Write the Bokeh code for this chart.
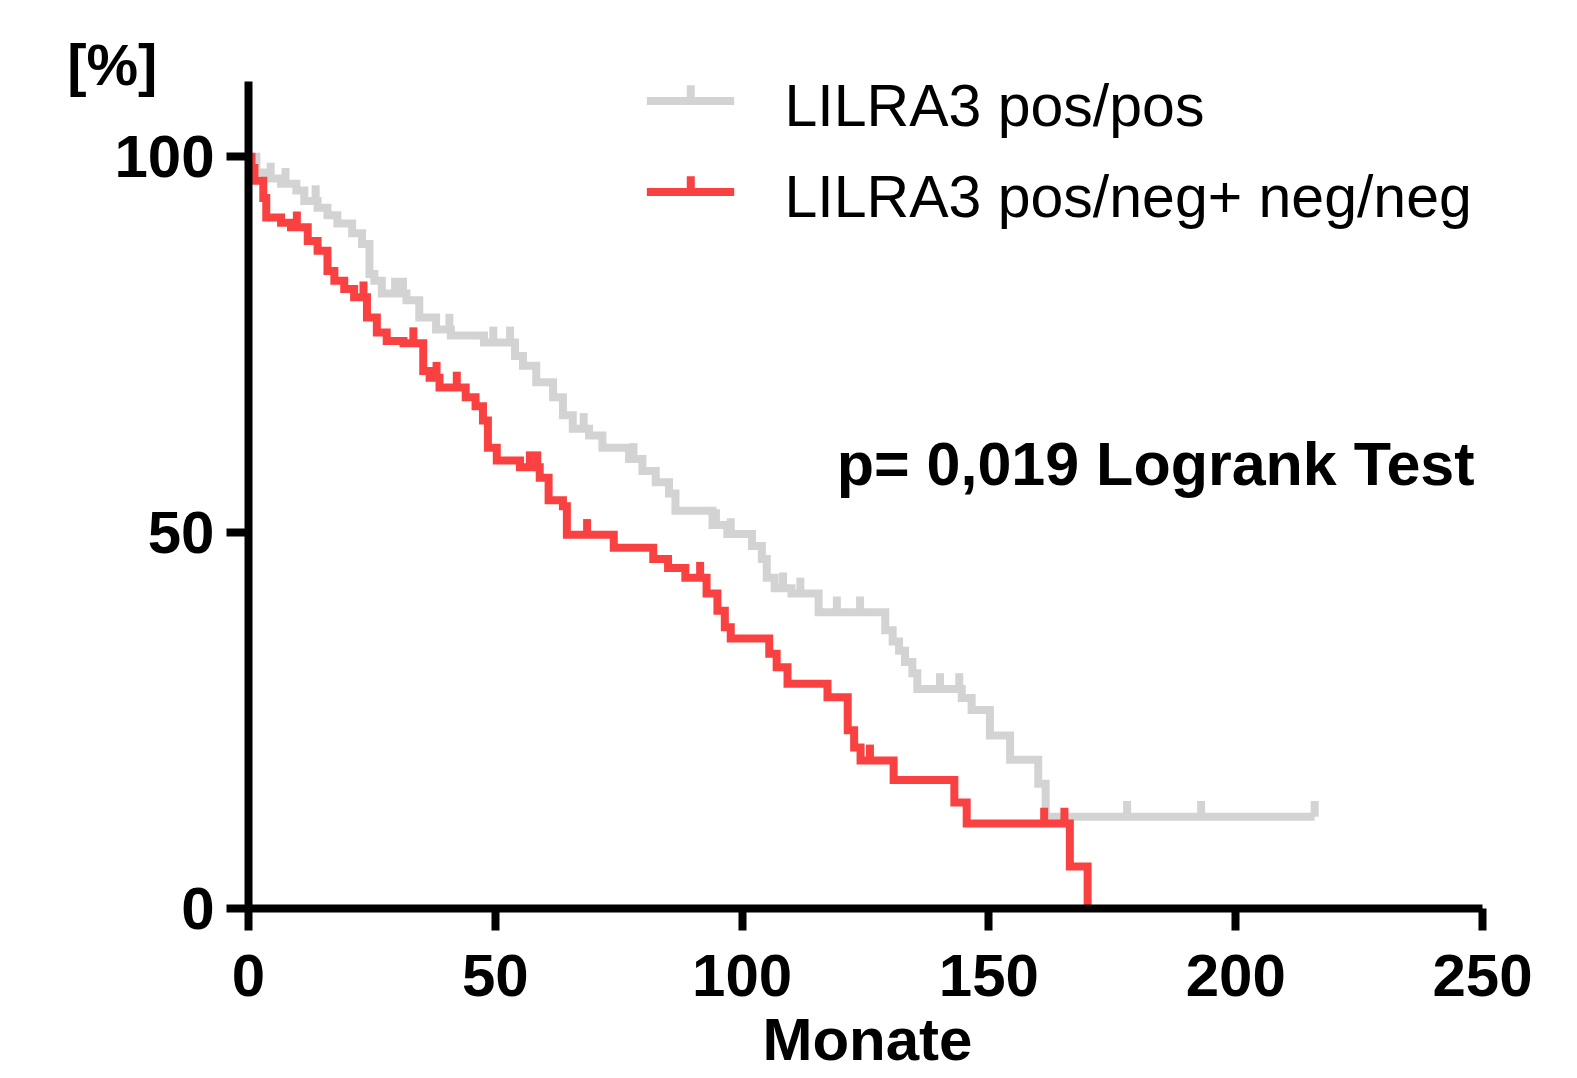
import numpy as np
from bokeh.plotting import figure
from bokeh.models import Range1d, Label, FixedTicker
from bokeh.embed import file_html
from bokeh.resources import INLINE

# ---------------- data ----------------
x_ticks = [0, 50, 100, 150, 200, 250]
y_ticks = [0, 50, 100]

series_names = ["LILRA3 pos/pos", "LILRA3 pos/neg+ neg/neg"]
series_colors = ["#D3D3D3", "#F94141"]

pos_times = [0, 1.6, 3.3, 6.6, 9.7, 11.3, 14, 16, 18, 21, 23, 24.5, 25.5, 27, 32,
             34.6, 38, 41, 47.7, 54, 55.6, 58.3, 61.7, 63.7, 65.7, 69, 71.7, 77.1,
             79.8, 82.5, 85.2, 86.5, 94, 97, 102, 104, 105, 106.6, 110, 115.5, 129,
             130.5, 131.8, 133, 134.5, 135.5, 144.5, 146.5, 150.2, 154.3, 160, 161.5, 216]
pos_surv = [100, 97.9, 97.1, 96.4, 95.5, 94.1, 93.2, 92.2, 91.1, 89.8, 88.4, 84.4, 83.5,
            81.8, 80.9, 78.6, 77.0, 76.2, 75.3, 73.5, 72.2, 70.0, 68.0, 65.6, 63.8, 62.9,
            61.3, 59.8, 58.2, 56.7, 55.2, 52.9, 51.0, 49.8, 48.2, 46.5, 44.0, 42.6, 41.9,
            39.4, 37.0, 35.5, 34.3, 32.8, 31.3, 29.2, 28.0, 26.4, 23.0, 19.8, 16.6, 12.2, 12.2]
pos_censored = [4.5, 7.5, 13.6, 29.7, 31.3, 40.7, 49.6, 53, 67.9, 78, 94.7, 97.7, 108.3,
                111.8, 119.2, 123.9, 140.1, 144, 178, 193, 216]

neg_times = [0, 0.6, 1.2, 3.0, 3.6, 6.6, 8.6, 12, 14, 16, 17.4, 19.4, 21.4, 24, 26, 28,
             31.4, 35.4, 36.7, 38.7, 44, 46, 47.5, 48.5, 50.3, 55, 59, 60.8, 63.7, 64.5,
             74, 82, 85, 88.5, 92.8, 95, 96.5, 97.7, 105.5, 107, 109.2, 117.3, 121.4,
             122.7, 124, 130.7, 143, 145.5, 166.4, 170]
neg_surv = [100, 98.5, 96.8, 94.5, 91.9, 91.2, 90.6, 88.8, 87.5, 84.8, 83.5, 82.4, 81.3,
            78.6, 76.6, 75.5, 75.2, 71.5, 70.6, 69.3, 68.0, 66.8, 64.9, 61.3, 59.6, 58.7,
            57.3, 54.3, 53.5, 49.7, 48.0, 46.5, 45.3, 44.0, 41.9, 39.6, 37.4, 35.9, 33.9,
            32.1, 29.9, 28.1, 23.7, 21.4, 19.7, 17.1, 14.1, 11.3, 5.6, 0]
neg_censored = [9.8, 23.3, 33.4, 38.1, 42.2, 57, 58.5, 68.6, 91.5, 125.9, 161.2, 165.3]

p_text = "p= 0,019 Logrank Test"
x_label = "Monate"
y_label = "[%]"

# ---------------- styling ----------------
FONT = "Liberation Sans"
LW = 8
TICK_H = 2.1  # censor tick height (data units)
LABEL_SHIFT = 3.0  # compensates label baseline placement

p = figure(width=1577, height=1078, output_backend="svg", toolbar_location=None,
           x_range=Range1d(0, 250), y_range=Range1d(0, 110),
           min_border_left=248, min_border_right=95,
           min_border_top=81, min_border_bottom=170)
p.outline_line_color = None
p.grid.visible = False
p.background_fill_color = "white"
p.border_fill_color = "white"

for ax in (p.xaxis[0], p.yaxis[0]):
    ax.axis_line_width = LW
    ax.axis_line_color = "black"
    ax.major_tick_line_width = LW
    ax.major_tick_line_color = "black"
    ax.major_tick_out = 22
    ax.major_tick_in = 0
    ax.minor_tick_line_color = None
    ax.major_label_text_font = FONT
    ax.major_label_text_font_style = "bold"
    ax.major_label_text_font_size = "60px"
    ax.major_label_text_color = "black"
p.xaxis.ticker = FixedTicker(ticks=x_ticks)
p.yaxis.ticker = FixedTicker(ticks=y_ticks)
p.xaxis.major_label_standoff = 24
p.yaxis.major_label_standoff = 12


def surv_at(times, surv, t):
    idx = np.searchsorted(np.asarray(times), np.asarray(t), side="right") - 1
    return np.asarray(surv)[idx]


curves = [(pos_times, pos_surv, pos_censored), (neg_times, neg_surv, neg_censored)]
for (tt, ss, cc), col in zip(curves, series_colors):
    p.step(tt, ss, mode="after", line_color=col, line_width=LW, line_join="miter")
    cs = surv_at(tt, ss, cc)
    p.segment(x0=cc, y0=cs, x1=cc, y1=cs + TICK_H, line_color=col, line_width=LW)

# ---------------- legend (manual) ----------------
leg_x0, leg_x1, leg_tick = 80.7, 98.4, 89.6
leg_ys = [107.4, 95.3]
leg_text_x = 108.6
leg_base = [103.7, 91.6]
for name, col, ly, lb in zip(series_names, series_colors, leg_ys, leg_base):
    p.line([leg_x0, leg_x1], [ly, ly], line_color=col, line_width=LW)
    p.segment(x0=[leg_tick], y0=[ly], x1=[leg_tick], y1=[ly + TICK_H], line_color=col, line_width=LW)
    p.add_layout(Label(x=leg_text_x, y=lb + LABEL_SHIFT, text=name, text_font=FONT,
                       text_font_size="59px", text_align="left",
                       text_baseline="alphabetic", text_color="black"))

p.add_layout(Label(x=248.4, y=56.1 + LABEL_SHIFT, text=p_text, text_font=FONT,
                   text_font_style="bold", text_font_size="61px", text_align="right",
                   text_baseline="alphabetic", text_color="black"))

# texts outside the frame go into side panels so they are not clipped
p.add_layout(Label(x=-27.6, y=109.2 + LABEL_SHIFT, text=y_label, text_font=FONT,
                   text_font_style="bold", text_font_size="58px", text_align="center",
                   text_baseline="alphabetic", text_color="black"), "left")
p.add_layout(Label(x=125.4, y=-20.4 + LABEL_SHIFT, text=x_label, text_font=FONT,
                   text_font_style="bold", text_font_size="60px", text_align="center",
                   text_baseline="alphabetic", text_color="black"), "below")

open("out.html", "w").write(file_html(p, INLINE))
